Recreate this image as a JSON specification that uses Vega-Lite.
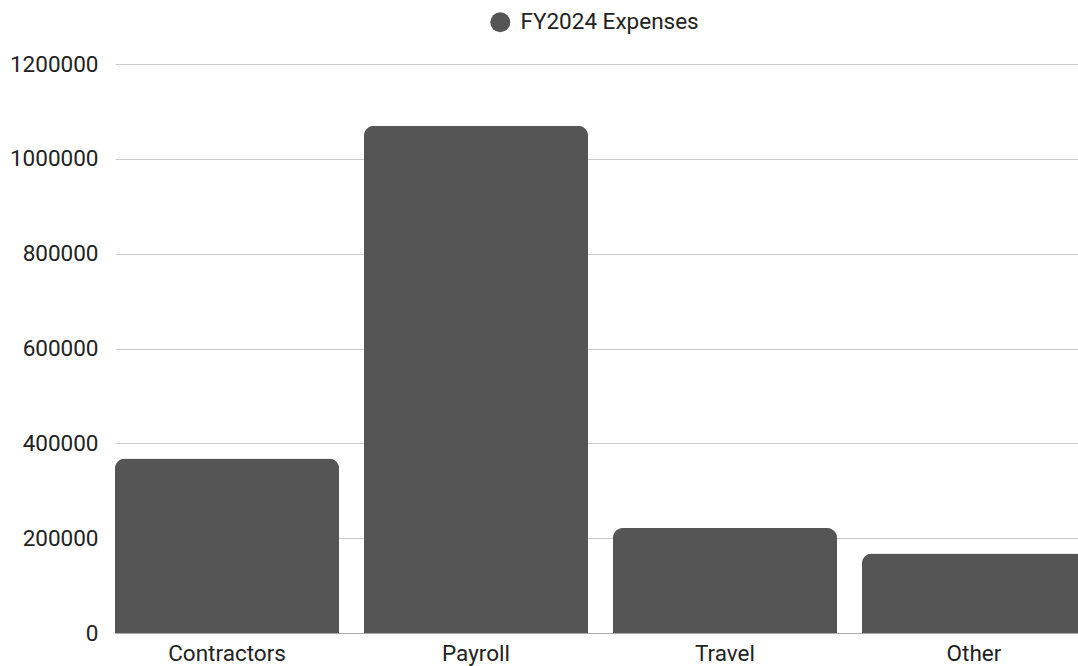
{
  "$schema": "https://vega.github.io/schema/vega-lite/v6.json",
  "autosize": "none",
  "width": 971,
  "height": 569,
  "padding": {"left": 115, "top": 64, "right": 0, "bottom": 33},
  "background": "white",
  "config": {
    "view": {"stroke": null},
    "font": "Roboto",
    "axis": {"labelFont": "Roboto", "labelFontSize": 22.5, "labelColor": "#222222"},
    "legend": {"labelFont": "Roboto", "labelFontSize": 22.5, "labelColor": "#222222", "labelLimit": 400}
  },
  "data": {
    "values": [
      {"category": "Contractors", "series": "FY2024 Expenses", "value": 368000},
      {"category": "Payroll", "series": "FY2024 Expenses", "value": 1070000},
      {"category": "Travel", "series": "FY2024 Expenses", "value": 221500},
      {"category": "Other", "series": "FY2024 Expenses", "value": 167500}
    ]
  },
  "mark": {"type": "bar", "cornerRadiusTopLeft": 10, "cornerRadiusTopRight": 10},
  "encoding": {
    "x": {
      "field": "category",
      "type": "nominal",
      "sort": null,
      "scale": {"paddingInner": 0.1, "paddingOuter": 0},
      "axis": {
        "title": null,
        "labelAngle": 0,
        "ticks": false,
        "domain": true,
        "domainColor": "#aaaaaa",
        "labelPadding": 9
      }
    },
    "y": {
      "field": "value",
      "type": "quantitative",
      "scale": {"domain": [0, 1200000], "nice": false},
      "axis": {
        "title": null,
        "values": [0, 200000, 400000, 600000, 800000, 1000000, 1200000],
        "format": "d",
        "ticks": false,
        "domain": false,
        "gridColor": "#cccccc",
        "labelPadding": 17
      }
    },
    "color": {
      "field": "series",
      "type": "nominal",
      "scale": {"range": ["#555555"]},
      "legend": {
        "title": null,
        "orient": "none",
        "legendX": 374,
        "legendY": -53,
        "padding": 0,
        "symbolType": "circle",
        "symbolSize": 400,
        "labelOffset": 9
      }
    }
  }
}
